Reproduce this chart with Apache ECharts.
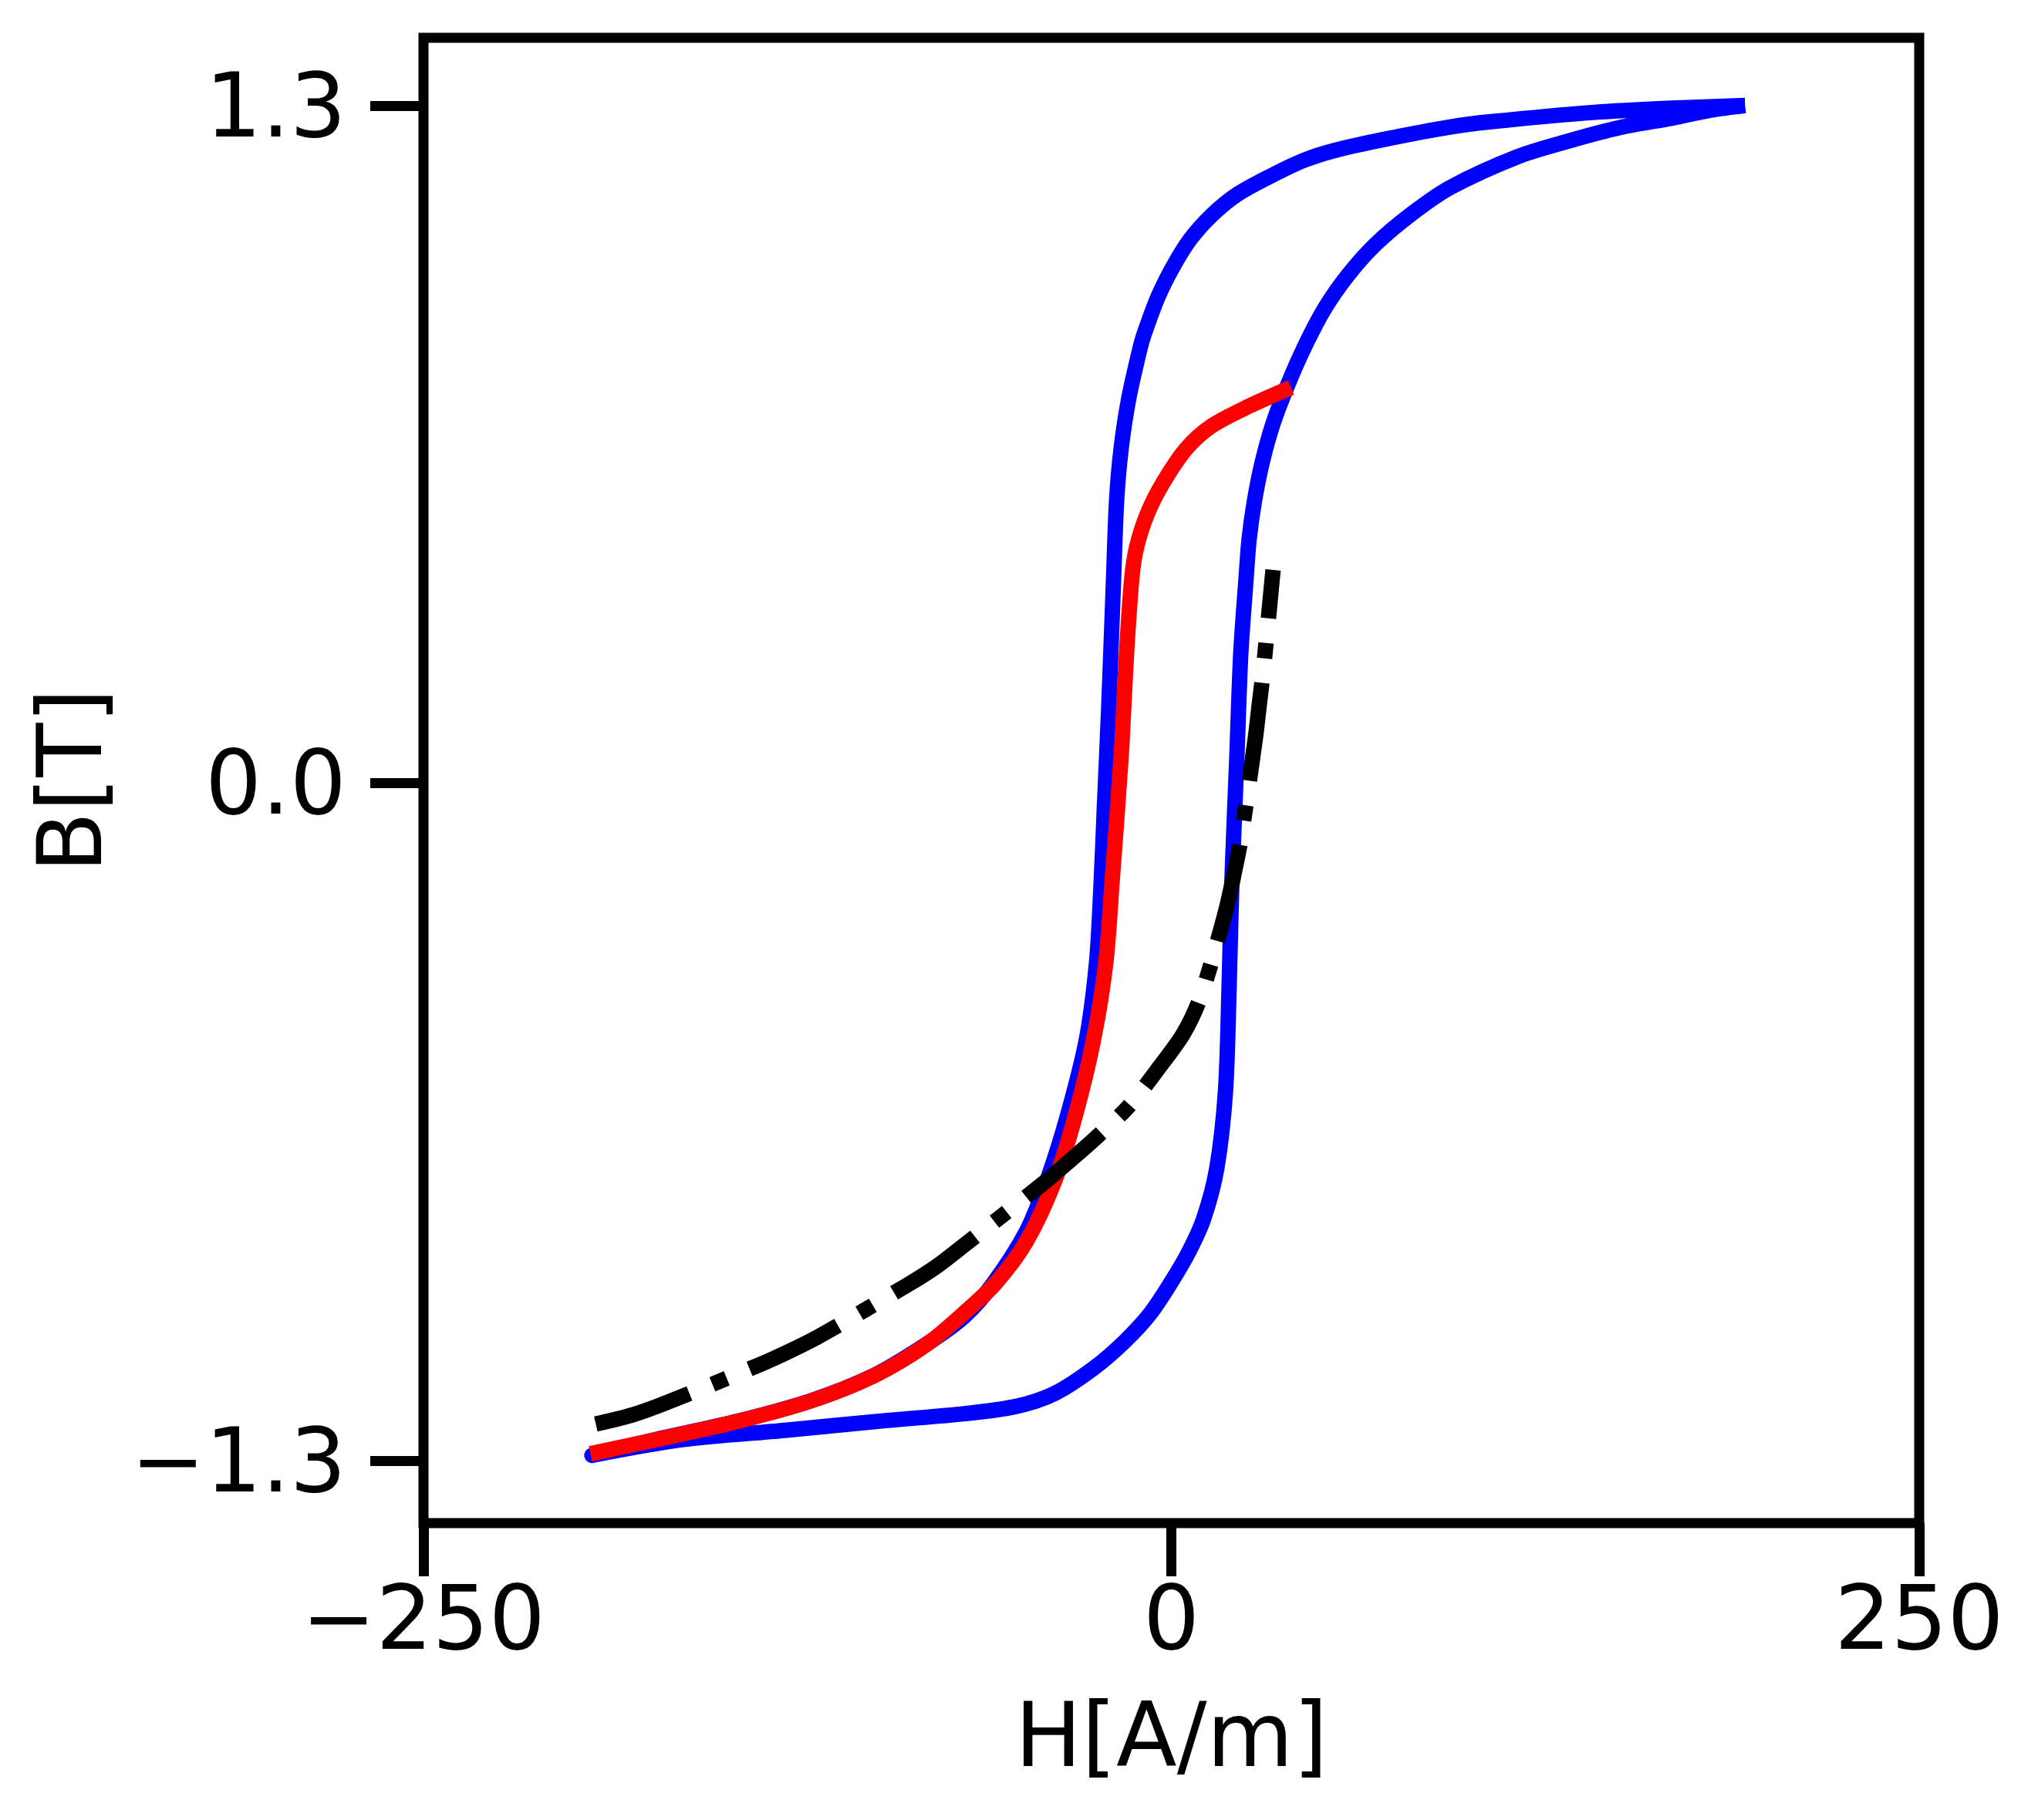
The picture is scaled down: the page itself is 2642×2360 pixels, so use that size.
<!DOCTYPE html>
<html>
<head>
<meta charset="utf-8">
<title>B-H</title>
<script src="https://cdn.jsdelivr.net/npm/echarts@6/dist/echarts.min.js"></script>
<style>
html, body { margin: 0; padding: 0; background: #fff; }
#chart { width: 2642px; height: 2360px; }
</style>
</head>
<body>
<div id="chart"></div>
<script type="text/javascript">
// major loop: descending branch then ascending branch (H [A/m], B [T])
var blueH = [191.8, 167.4, 141.6, 107.0, 93.3, 71.9, 54.7, 44.4, 33.3, 21.9, 13.4, 6.4, 0.5, -4.6, -9.0, -10.3, -14.2, -16.8,
    -18.3, -19.3, -20.9, -22.4, -23.5, -25.0, -28.4, -34.8, -41.5, -48.5, -59.5, -69.3, -82.2, -99.5, -120.9, -146.7, -172.5, -193.7,
    -163.7, -129.2, -94.9, -69.1, -51.8, -38.9, -26.0, -15.7, -7.2, -0.3, 5.7, 10.8, 15.2, 18.1, 19.3, 20.2, 21.9, 23.2,
    25.0, 26.0, 27.8, 30.4, 34.0, 38.9, 44.6, 51.3, 59.1, 68.3, 80.5, 93.3, 115.8, 132.8, 150.1, 167.4, 180.2, 191.8];
var blueB = [1.300, 1.295, 1.287, 1.269, 1.259, 1.236, 1.214, 1.195, 1.165, 1.129, 1.089, 1.044, 0.990, 0.931, 0.863, 0.838, 0.739, 0.641,
    0.542, 0.394, 0.148, -0.049, -0.196, -0.344, -0.492, -0.640, -0.762, -0.861, -0.960, -1.024, -1.078, -1.137, -1.186, -1.227, -1.260, -1.290,
    -1.260, -1.242, -1.223, -1.210, -1.196, -1.171, -1.123, -1.072, -1.019, -0.960, -0.901, -0.836, -0.739, -0.591, -0.393, -0.196, 0.050, 0.247,
    0.394, 0.468, 0.542, 0.616, 0.690, 0.764, 0.838, 0.911, 0.975, 1.034, 1.093, 1.143, 1.202, 1.232, 1.258, 1.276, 1.291, 1.300];

// minor branch
var redH = [-194.2, -172.3, -146.5, -120.7, -99.3, -82.0, -69.1, -58.8, -48.5, -38.9, -32.2, -26.0, -21.9, -19.9,
    -16.8, -15.0, -13.2, -11.6, -8.0, -2.8, 4.9, 13.4, 26.3, 40.0];
var redB = [-1.287, -1.260, -1.227, -1.186, -1.137, -1.078, -1.016, -0.960, -0.880, -0.762, -0.640, -0.492, -0.344, -0.196,
    0.050, 0.247, 0.394, 0.453, 0.517, 0.576, 0.641, 0.685, 0.724, 0.759];

// dash-dot curve
var blackH = [-192.4, -180.5, -169.7, -138.0, -127.6, -117.6, -87.9, -78.6, -69.1, -42.8, -33.8, -25.3, -14.2, -2.8, 3.9, 9.0,
    13.4, 18.6, 21.1, 23.2, 28.1, 29.4, 30.7, 34.0];
var blackB = [-1.230, -1.213, -1.191, -1.117, -1.090, -1.061, -0.962, -0.928, -0.886, -0.768, -0.724, -0.681, -0.620, -0.536, -0.482, -0.422,
    -0.344, -0.236, -0.170, -0.108, 0.087, 0.151, 0.214, 0.409];

var xTicks = [-250, 0, 250];
var yTicks = [-1.3, 0, 1.3];

function pairs(hs, bs) {
    return hs.map(function (h, i) { return [h, bs[i]]; });
}
function minus(s) {
    return s.replace('-', '\u2212');
}

var font = 'DejaVu Sans';
var chart = echarts.init(document.getElementById('chart'));
var option = {
    animation: false,
    backgroundColor: '#fff',
    grid: {
        left: 549, right: 154, top: 49, bottom: 385,
        show: true, borderColor: '#000', borderWidth: 13, backgroundColor: 'transparent'
    },
    xAxis: {
        type: 'value',
        min: -250, max: 250, interval: 250,
        name: 'H[A/m]',
        nameLocation: 'middle',
        nameGap: 228,
        nameTextStyle: { fontFamily: font, fontSize: 115, color: '#000' },
        axisLine: { show: false, onZero: false },
        splitLine: { show: false },
        axisTick: { show: true, inside: false, length: 69, lineStyle: { color: '#000', width: 13 } },
        axisLabel: {
            margin: 76, fontFamily: font, fontSize: 115, color: '#000',
            customValues: xTicks,
            formatter: function (v) { return minus(String(v)); }
        }
    },
    yAxis: {
        type: 'value',
        min: -1.42, max: 1.43,
        name: 'B[T]',
        nameLocation: 'middle',
        nameGap: 372,
        nameRotate: 90,
        nameTextStyle: { fontFamily: font, fontSize: 115, color: '#000' },
        axisLine: { show: false, onZero: false },
        splitLine: { show: false },
        axisTick: { show: true, inside: false, length: 69, customValues: yTicks, lineStyle: { color: '#000', width: 13 } },
        axisLabel: {
            margin: 100, color: '#000',
            customValues: yTicks,
            formatter: function (v) { return '{t|' + minus(v.toFixed(1)) + '}'; },
            rich: { t: { fontFamily: font, fontSize: 115, color: '#000', padding: [20, 0, 0, 0] } }
        }
    },
    series: [
        {
            type: 'line', data: pairs(blueH, blueB), showSymbol: false, symbol: 'none', smooth: 0.3,
            lineStyle: { color: '#0000ff', width: 20, join: 'round', cap: 'butt' }, z: 2
        },
        {
            type: 'line', data: pairs(redH, redB), showSymbol: false, symbol: 'none', smooth: 0.3,
            lineStyle: { color: '#ff0000', width: 20, join: 'round', cap: 'butt' }, z: 3
        },
        {
            type: 'line', data: pairs(blackH, blackB), showSymbol: false, symbol: 'none', smooth: 0.3,
            lineStyle: { color: '#000', width: 20, type: [128, 32, 20, 32], join: 'round', cap: 'butt' }, z: 4
        }
    ]
};
chart.setOption(option);
</script>
</body>
</html>
